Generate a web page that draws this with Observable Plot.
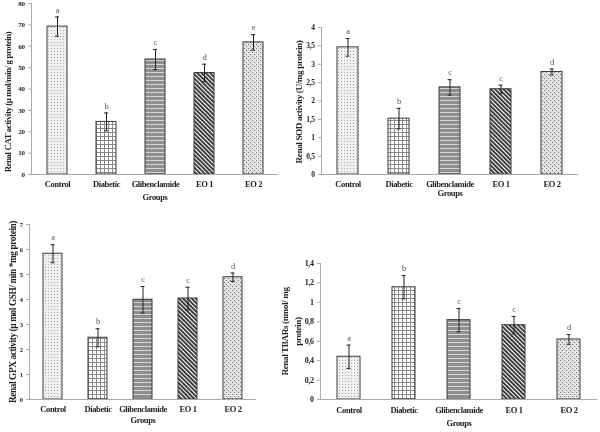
<!DOCTYPE html>
<html><head><meta charset="utf-8">
<script src="https://cdn.jsdelivr.net/npm/d3@7"></script>
<script src="https://cdn.jsdelivr.net/npm/@observablehq/plot@0.6"></script>
<style>
html,body{margin:0;padding:0;background:#fff;}
#wrap{position:relative;width:600px;height:432px;overflow:hidden;background:#fff;}
.panel{position:absolute;will-change:transform;}
.panel svg text{letter-spacing:-0.4px;}
</style></head><body>
<div id="wrap">
<svg width="0" height="0" style="position:absolute;left:0;top:0">
<defs>
<pattern id="patControl" width="3" height="3" patternUnits="userSpaceOnUse"><rect width="3" height="3" fill="#f0f0f0"/><rect width="1" height="1" fill="#acacac"/></pattern>
<pattern id="patDiabetic" width="4" height="4" patternUnits="userSpaceOnUse"><rect width="4" height="4" fill="#fff"/><path d="M0 0.5H4M0.5 0V4" stroke="#8a8a8a" stroke-width="1"/></pattern>
<pattern id="patGlib" width="4" height="4" patternUnits="userSpaceOnUse"><rect width="4" height="4" fill="#8e8e8e"/><rect y="0" width="4" height="1" fill="#d6d6d6"/></pattern>
<pattern id="patEO1" width="3" height="3" patternUnits="userSpaceOnUse" patternTransform="rotate(-45)"><rect width="3" height="3" fill="#fff"/><rect width="1.8" height="3" fill="#2a2a2a"/></pattern>
<pattern id="patEO2" width="4" height="4" patternUnits="userSpaceOnUse"><rect width="4" height="4" fill="#e4e4e4"/><rect width="1" height="1" fill="#6e6e6e"/><rect x="2" y="2" width="1" height="1" fill="#6e6e6e"/></pattern>
</defs>
</svg>
<div class="panel" id="p1" style="left:0px;top:0px"></div>
<div class="panel" id="p2" style="left:290px;top:0px"></div>
<div class="panel" id="p3" style="left:0px;top:210px"></div>
<div class="panel" id="p4" style="left:270px;top:210px"></div>
</div>
<script>
// ---- data ----
const groups = ["Control", "Diabetic", "Glibenclamide", "EO 1", "EO 2"];

const catValues = [69.2, 24.6, 53.8, 47.5, 61.8];
const catErrors = [4.5, 4.2, 4.7, 4.1, 3.6];
const catLetters = ["a", "b", "c", "d", "e"];
const catTicks = [0, 10, 20, 30, 40, 50, 60, 70, 80];

const sodValues = [3.46, 1.52, 2.37, 2.32, 2.79];
const sodErrors = [0.24, 0.28, 0.21, 0.11, 0.08];
const sodLetters = ["a", "b", "c", "c", "d"];
const sodTicks = [0, 0.5, 1, 1.5, 2, 2.5, 3, 3.5, 4];

const gpxValues = [5.83, 2.47, 3.99, 4.04, 4.89];
const gpxErrors = [0.36, 0.36, 0.53, 0.45, 0.17];
const gpxLetters = ["a", "b", "c", "c", "d"];
const gpxTicks = [0, 1, 2, 3, 4, 5, 6, 7];

const tbarsValues = [0.44, 1.155, 0.817, 0.765, 0.618];
const tbarsErrors = [0.12, 0.12, 0.12, 0.09, 0.05];
const tbarsLetters = ["a", "b", "c", "c", "d"];
const tbarsTicks = [0, 0.2, 0.4, 0.6, 0.8, 1, 1.2, 1.4];

const patterns = ["url(#patControl)", "url(#patDiabetic)", "url(#patGlib)", "url(#patEO1)", "url(#patEO2)"];

const fmt = d => String(d).replace(".", ",");

function panel(id, cfg) {
  const data = groups.map((g, i) => ({group: g, v: cfg.values[i], e: cfg.errors[i], letter: cfg.letters[i]}));
  const chart = Plot.plot({
    width: cfg.width, height: cfg.height,
    marginLeft: cfg.ml, marginRight: cfg.mr, marginTop: cfg.mt, marginBottom: cfg.mb,
    style: {fontFamily: "'Liberation Serif', 'Times New Roman', serif", color: "#333", background: "transparent", overflow: "visible"},
    x: {domain: groups, paddingInner: cfg.pad, paddingOuter: cfg.pad / 2, label: null},
    y: {domain: cfg.domain, label: null},
    color: {domain: groups, range: patterns},
    marks: [
      Plot.barY(data, {x: "group", y: "v", fill: "group", stroke: "#3a3a3a", strokeWidth: 1}),
      Plot.ruleX(data, {x: "group", y1: d => d.v - d.e, y2: d => d.v + d.e, stroke: "#222", strokeWidth: 1}),
      Plot.tickY(data, {x: "group", y: d => d.v + d.e, stroke: "#222", insetLeft: cfg.cap, insetRight: cfg.cap}),
      Plot.tickY(data, {x: "group", y: d => d.v - d.e, stroke: "#222", insetLeft: cfg.cap, insetRight: cfg.cap}),
      Plot.text(data, {x: "group", y: d => d.v + d.e, text: "letter", dy: -7, fontSize: 8.5, fill: "#555"}),
      Plot.ruleY([0], {stroke: "#aaa"}),
      Plot.frame({anchor: "left", stroke: "#aaa"}),
      Plot.axisY({ticks: cfg.ticks, tickFormat: fmt, tickSize: 3, tickPadding: 4, stroke: "#aaa", fontSize: cfg.yTickSize, fontWeight: "bold", fill: "#222", label: null}),
      Plot.axisX({tickSize: 0, tickPadding: cfg.xPad, fontSize: 8.5, fontWeight: "bold", fill: "#222", label: null}),
      Plot.text(["Groups"], {frameAnchor: "bottom", dy: cfg.groupsDy, fontSize: 8.5, fontWeight: "bold", fill: "#222"}),
      Plot.text([cfg.yLabel], {frameAnchor: "left", textAnchor: "middle", lineAnchor: "middle", rotate: -90, dx: cfg.labelDx, dy: cfg.labelDy, fontSize: cfg.labelSize, fontWeight: "bold", fill: "#222", lineHeight: 1.4})
    ]
  });
  document.getElementById(id).appendChild(chart);
}

panel("p1", {values: catValues, errors: catErrors, letters: catLetters, ticks: catTicks, domain: [0, 80],
  width: 290, height: 210, ml: 31, mr: 12, mt: 3, mb: 36, pad: 0.6, cap: 8,
  yTickSize: 7, xPad: 6, groupsDy: 25, labelDx: -24, labelDy: 13, labelSize: 8.8,
  yLabel: "Renal CAT activity (µ mol/min/ g protein)"});

panel("p2", {values: sodValues, errors: sodErrors, letters: sodLetters, ticks: sodTicks, domain: [0, 4],
  width: 310, height: 210, ml: 31, mr: 22, mt: 27, mb: 36, pad: 0.59, cap: 8.5,
  yTickSize: 7.5, xPad: 6, groupsDy: 21, labelDx: -24, labelDy: 1, labelSize: 9.2,
  yLabel: "Renal SOD activity (U/mg protein)"});

panel("p3", {values: gpxValues, errors: gpxErrors, letters: gpxLetters, ticks: gpxTicks, domain: [0, 7],
  width: 270, height: 222, ml: 29, mr: 14, mt: 14, mb: 33, pad: 0.58, cap: 7.5,
  yTickSize: 6.5, xPad: 6, groupsDy: 23, labelDx: -18, labelDy: 0, labelSize: 9.3,
  yLabel: "Renal GPX activity (µ mol GSH/ min *mg protein)"});

panel("p4", {values: tbarsValues, errors: tbarsErrors, letters: tbarsLetters, ticks: tbarsTicks, domain: [0, 1.4],
  width: 330, height: 222, ml: 50, mr: 3, mt: 53, mb: 33, pad: 0.58, cap: 9.5,
  yTickSize: 8, xPad: 7, groupsDy: 26, labelDx: -30, labelDy: 0, labelSize: 9.2,
  yLabel: "Renal TBARs (nmol/ mg\nprotein)"});
</script>
</body></html>
